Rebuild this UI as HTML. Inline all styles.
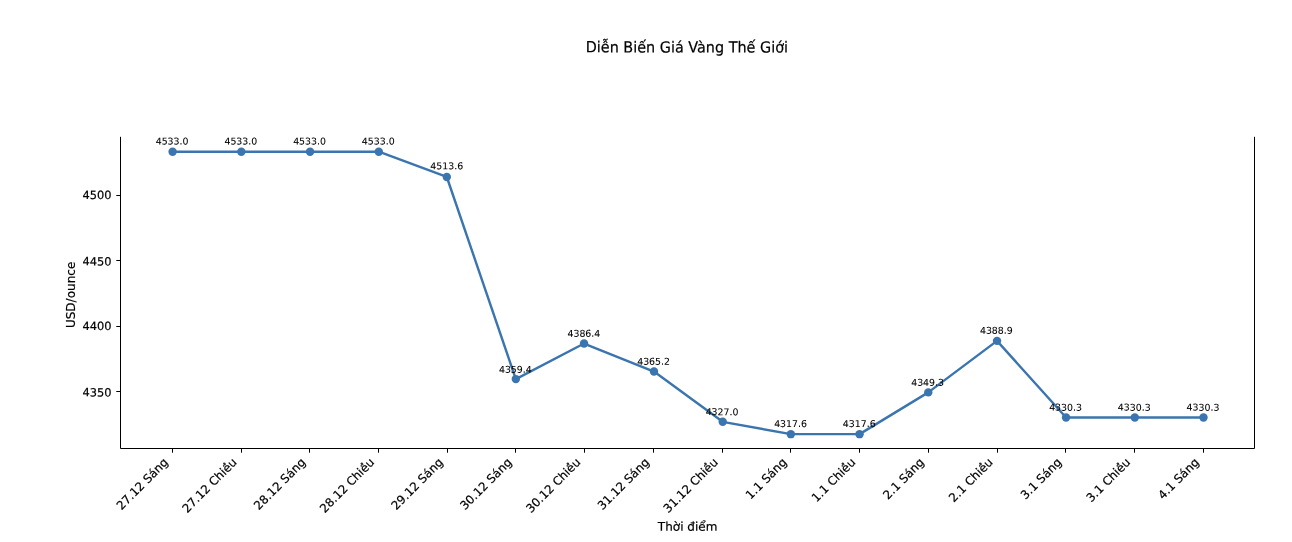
<!DOCTYPE html>
<html lang="vi"><head><meta charset="utf-8"><title>Diễn Biến Giá Vàng Thế Giới</title>
<style>html,body{margin:0;padding:0;background:#fff}svg{display:block}text{stroke:#000;stroke-linejoin:round}.t{stroke-width:.2px}.k{stroke-width:.2px}.a{stroke-width:.08px}</style></head>
<body>
<svg width="1292" height="542" viewBox="0 0 1292 542">
<rect width="1292" height="542" fill="#fff"/>
<g font-family="'DejaVu Sans', 'Liberation Sans', sans-serif" fill="#000">
<text class="t" transform="translate(686.85 52.45) rotate(0.05) scale(0.941 1)" font-size="15.30" text-anchor="middle">Diễn Biến Giá Vàng Thế Giới</text>
<polyline points="172.60,151.70 241.33,151.70 310.05,151.70 378.78,151.70 446.81,176.99 515.83,379.09 584.06,343.54 653.99,371.54 722.71,421.83 790.84,434.15 859.57,434.15 928.29,392.39 997.02,340.86 1066.05,417.50 1134.77,417.50 1203.50,417.50" fill="none" stroke="#3b75af" stroke-width="2.41" stroke-linejoin="round" stroke-linecap="butt"/>
<circle cx="172.60" cy="151.70" r="4.21" fill="#3b75af"/>
<circle cx="241.33" cy="151.70" r="4.21" fill="#3b75af"/>
<circle cx="310.05" cy="151.70" r="4.21" fill="#3b75af"/>
<circle cx="378.78" cy="151.70" r="4.21" fill="#3b75af"/>
<circle cx="446.81" cy="176.99" r="4.21" fill="#3b75af"/>
<circle cx="515.83" cy="379.09" r="4.21" fill="#3b75af"/>
<circle cx="584.06" cy="343.54" r="4.21" fill="#3b75af"/>
<circle cx="653.99" cy="371.54" r="4.21" fill="#3b75af"/>
<circle cx="722.71" cy="421.83" r="4.21" fill="#3b75af"/>
<circle cx="790.84" cy="434.15" r="4.21" fill="#3b75af"/>
<circle cx="859.57" cy="434.15" r="4.21" fill="#3b75af"/>
<circle cx="928.29" cy="392.39" r="4.21" fill="#3b75af"/>
<circle cx="997.02" cy="340.86" r="4.21" fill="#3b75af"/>
<circle cx="1066.05" cy="417.50" r="4.21" fill="#3b75af"/>
<circle cx="1134.77" cy="417.50" r="4.21" fill="#3b75af"/>
<circle cx="1203.50" cy="417.50" r="4.21" fill="#3b75af"/>
<g stroke="#000" stroke-width="1.00" fill="none" stroke-linecap="square">
<path d="M120.50 137.30V448.50H1254.50V137.30"/>
</g>
<g stroke="#000" stroke-width="1.00" fill="none">
<path d="M172.50 448.50v4.21"/>
<path d="M241.50 448.50v4.21"/>
<path d="M309.50 448.50v4.21"/>
<path d="M378.50 448.50v4.21"/>
<path d="M447.50 448.50v4.21"/>
<path d="M515.50 448.50v4.21"/>
<path d="M584.50 448.50v4.21"/>
<path d="M653.50 448.50v4.21"/>
<path d="M722.50 448.50v4.21"/>
<path d="M790.50 448.50v4.21"/>
<path d="M859.50 448.50v4.21"/>
<path d="M928.50 448.50v4.21"/>
<path d="M997.50 448.50v4.21"/>
<path d="M1065.50 448.50v4.21"/>
<path d="M1134.50 448.50v4.21"/>
<path d="M1203.50 448.50v4.21"/>
<path d="M120.50 391.50h-4.21"/>
<path d="M120.50 326.50h-4.21"/>
<path d="M120.50 260.50h-4.21"/>
<path d="M120.50 195.50h-4.21"/>
</g>
<text class="k" transform="translate(111.42 396.40) rotate(0.05)" font-size="11.4" text-anchor="end">4350</text>
<text class="k" transform="translate(111.42 330.00) rotate(0.05)" font-size="11.4" text-anchor="end">4400</text>
<text class="k" transform="translate(111.42 265.40) rotate(0.05)" font-size="11.4" text-anchor="end">4450</text>
<text class="k" transform="translate(111.42 199.00) rotate(0.05)" font-size="11.4" text-anchor="end">4500</text>
<text class="k" transform="translate(168.91 463.00) rotate(-45)" font-size="11.8" text-anchor="end">27.12 Sáng</text>
<text class="k" transform="translate(237.63 463.00) rotate(-45)" font-size="11.8" text-anchor="end">27.12 Chiều</text>
<text class="k" transform="translate(306.36 463.00) rotate(-45)" font-size="11.8" text-anchor="end">28.12 Sáng</text>
<text class="k" transform="translate(375.09 463.00) rotate(-45)" font-size="11.8" text-anchor="end">28.12 Chiều</text>
<text class="k" transform="translate(443.81 463.00) rotate(-45)" font-size="11.8" text-anchor="end">29.12 Sáng</text>
<text class="k" transform="translate(512.54 463.00) rotate(-45)" font-size="11.8" text-anchor="end">30.12 Sáng</text>
<text class="k" transform="translate(581.27 463.00) rotate(-45)" font-size="11.8" text-anchor="end">30.12 Chiều</text>
<text class="k" transform="translate(650.00 463.00) rotate(-45)" font-size="11.8" text-anchor="end">31.12 Sáng</text>
<text class="k" transform="translate(718.72 463.00) rotate(-45)" font-size="11.8" text-anchor="end">31.12 Chiều</text>
<text class="k" transform="translate(787.45 463.00) rotate(-45)" font-size="11.8" text-anchor="end">1.1 Sáng</text>
<text class="k" transform="translate(856.18 463.00) rotate(-45)" font-size="11.8" text-anchor="end">1.1 Chiều</text>
<text class="k" transform="translate(924.90 463.00) rotate(-45)" font-size="11.8" text-anchor="end">2.1 Sáng</text>
<text class="k" transform="translate(993.63 463.00) rotate(-45)" font-size="11.8" text-anchor="end">2.1 Chiều</text>
<text class="k" transform="translate(1062.36 463.00) rotate(-45)" font-size="11.8" text-anchor="end">3.1 Sáng</text>
<text class="k" transform="translate(1131.08 463.00) rotate(-45)" font-size="11.8" text-anchor="end">3.1 Chiều</text>
<text class="k" transform="translate(1199.81 463.00) rotate(-45)" font-size="11.8" text-anchor="end">4.1 Sáng</text>
<text class="a" transform="translate(172.10 144.45) rotate(0.05)" font-size="9.40" text-anchor="middle">4533.0</text>
<text class="a" transform="translate(240.83 144.45) rotate(0.05)" font-size="9.40" text-anchor="middle">4533.0</text>
<text class="a" transform="translate(309.55 144.45) rotate(0.05)" font-size="9.40" text-anchor="middle">4533.0</text>
<text class="a" transform="translate(378.28 144.45) rotate(0.05)" font-size="9.40" text-anchor="middle">4533.0</text>
<text class="a" transform="translate(446.71 169.34) rotate(0.05)" font-size="9.40" text-anchor="middle">4513.6</text>
<text class="a" transform="translate(515.33 372.80) rotate(0.05)" font-size="9.40" text-anchor="middle">4359.4</text>
<text class="a" transform="translate(583.86 336.68) rotate(0.05)" font-size="9.40" text-anchor="middle">4386.4</text>
<text class="a" transform="translate(653.59 364.69) rotate(0.05)" font-size="9.40" text-anchor="middle">4365.2</text>
<text class="a" transform="translate(722.06 415.13) rotate(0.05)" font-size="9.40" text-anchor="middle">4327.0</text>
<text class="a" transform="translate(790.54 427.05) rotate(0.05)" font-size="9.40" text-anchor="middle">4317.6</text>
<text class="a" transform="translate(859.27 427.05) rotate(0.05)" font-size="9.40" text-anchor="middle">4317.6</text>
<text class="a" transform="translate(927.59 385.69) rotate(0.05)" font-size="9.40" text-anchor="middle">4349.3</text>
<text class="a" transform="translate(996.32 333.76) rotate(0.05)" font-size="9.40" text-anchor="middle">4388.9</text>
<text class="a" transform="translate(1065.55 410.63) rotate(0.05)" font-size="9.40" text-anchor="middle">4330.3</text>
<text class="a" transform="translate(1134.27 410.63) rotate(0.05)" font-size="9.40" text-anchor="middle">4330.3</text>
<text class="a" transform="translate(1203.00 410.63) rotate(0.05)" font-size="9.40" text-anchor="middle">4330.3</text>
<text class="k" transform="translate(687.60 530.7) rotate(0.05)" font-size="12.04" text-anchor="middle">Thời điểm</text>
<text class="k" transform="translate(74.5 294.9) rotate(-90)" font-size="12.04" text-anchor="middle">USD/ounce</text>
</g></svg>
</body></html>
